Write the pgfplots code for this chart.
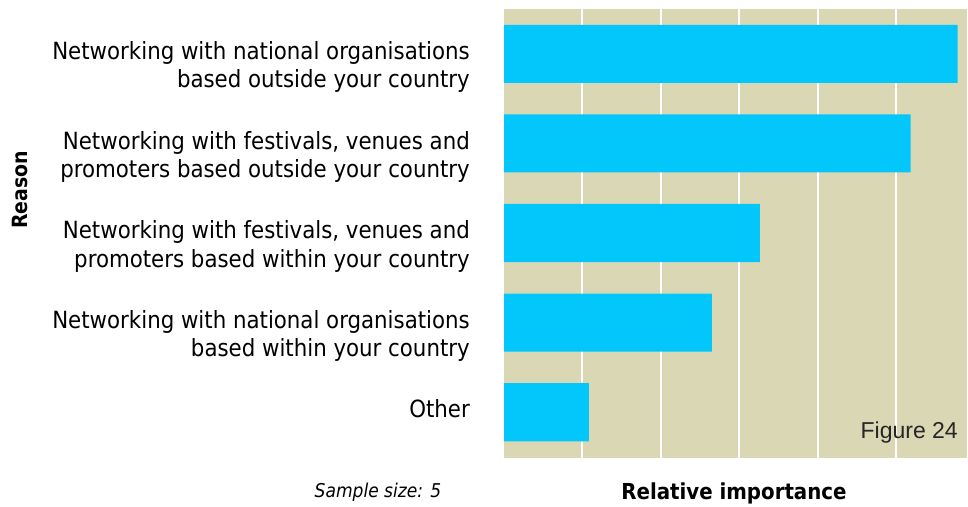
\documentclass[border=0pt]{standalone}
\usepackage{pgfplots}
\pgfplotsset{compat=1.18}
\usepackage{fontspec}
\setmainfont{DejaVu Sans Condensed}
\newfontfamily\figfont{Liberation Sans}
\definecolor{bg}{RGB}{218,215,181}
\definecolor{barc}{RGB}{3,198,250}
\begin{document}
\begin{tikzpicture}[x=1bp,y=1bp]
\begin{axis}[
  at={(504bp,49bp)}, anchor=south west,
  scale only axis, width=463bp, height=449bp,
  xbar, bar width=0.648, bar shift=0pt,
  xmin=0, xmax=5.9, ymin=-0.51, ymax=4.5,
  axis background/.style={fill=bg},
  axis line style={draw=none},
  major tick length=0pt,
  xtick={1,2,3,4,5}, xticklabels={},
  xmajorgrids, grid style={white, line width=2bp},
  ytick={0,1,2,3,4},
  yticklabels={Other,
    {Networking with national organisations\\based within your country},
    {Networking with festivals, venues and\\promoters based within your country},
    {Networking with festivals, venues and\\promoters based outside your country},
    {Networking with national organisations\\based outside your country}},
  yticklabel style={align=right, font=\fontsize{23.7bp}{28.5bp}\selectfont, anchor=north east, inner sep=0pt, yshift=12.5bp, xshift=-34bp},
]
\addplot[fill=barc, draw=none] coordinates {(1.08,0) (2.65,1) (3.26,2) (5.18,3) (5.78,4)};
\end{axis}
\node[rotate=90, font=\bfseries\fontsize{21bp}{25bp}\selectfont] at (20,317) {Reason};
\node[font=\bfseries\fontsize{22bp}{26bp}\selectfont] at (734,14) {Relative importance};
\node[font=\itshape\fontsize{19bp}{23bp}\selectfont] at (378,15) {Sample size: 5};
\node[anchor=base east, inner sep=0pt, text=black!85, font=\figfont\fontsize{23bp}{27bp}\selectfont] at (958,68) {Figure 24};
\pgfresetboundingbox
\path[use as bounding box] (0,0) rectangle (968,507);
\end{tikzpicture}
\end{document}
